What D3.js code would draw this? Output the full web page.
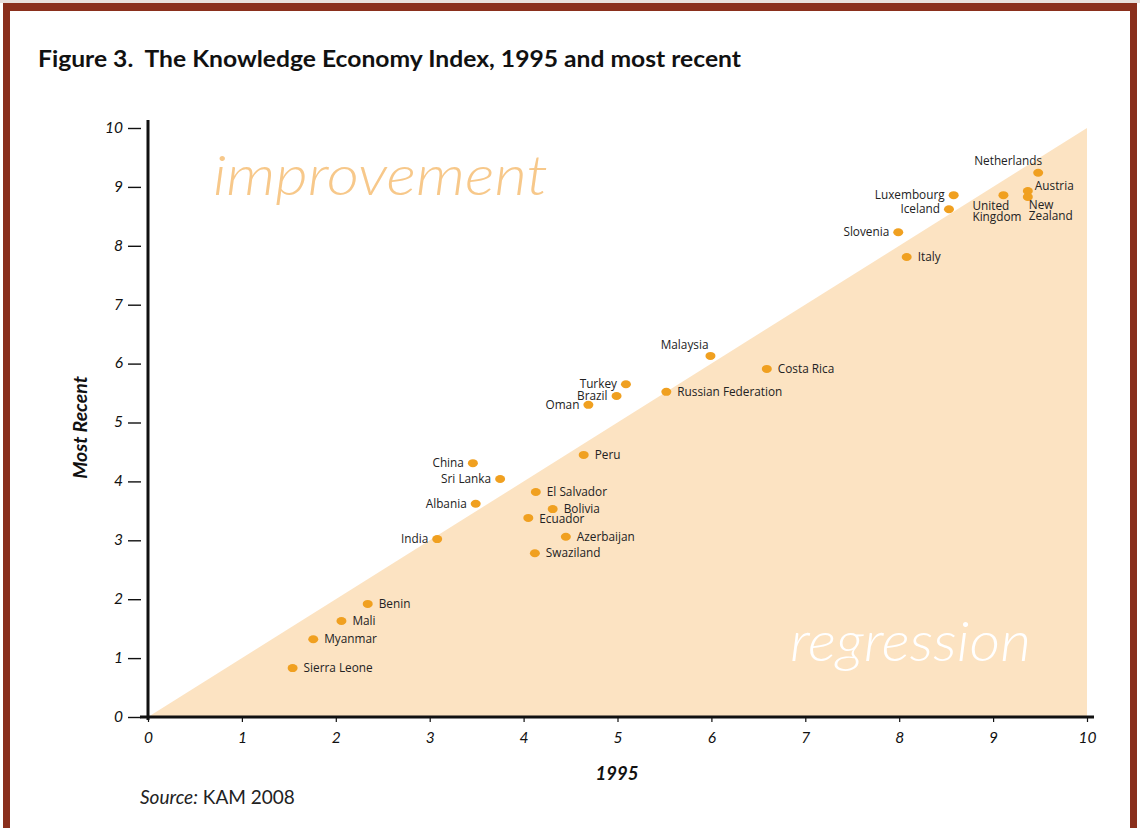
<!DOCTYPE html>
<html><head><meta charset="utf-8">
<script src="https://cdn.jsdelivr.net/npm/d3@7"></script>
<style>
html,body{margin:0;padding:0;background:#fff;}
svg{display:block;}
</style></head>
<body>
<svg id="chart" width="1140" height="828"></svg>
<script>
// ---- data ----
const countries = ["Netherlands","Austria","New Zealand","United Kingdom","Luxembourg","Iceland","Slovenia","Italy",
  "Malaysia","Costa Rica","Turkey","Brazil","Oman","Russian Federation","Peru","China","Sri Lanka","El Salvador",
  "Albania","Bolivia","Ecuador","India","Azerbaijan","Swaziland","Benin","Mali","Myanmar","Sierra Leone"];
const kei1995 = [9.48,9.37,9.37,9.11,8.58,8.53,7.99,8.08,5.99,6.59,5.09,4.99,4.69,5.52,4.64,3.46,3.75,4.13,
  3.49,4.31,4.05,3.08,4.45,4.12,2.34,2.06,1.76,1.54];
const keiRecent = [9.24,8.93,8.83,8.86,8.86,8.62,8.23,7.81,6.13,5.91,5.65,5.45,5.30,5.52,4.45,4.31,4.04,3.82,
  3.62,3.53,3.38,3.02,3.06,2.78,1.92,1.63,1.32,0.83];
const tickValues = [0,1,2,3,4,5,6,7,8,9,10];
const titleText = "Figure 3.  The Knowledge Economy Index, 1995 and most recent";
const xLabel = "1995", yLabel = "Most Recent";

// label placement (layout only)
const labelPlace = {
  "Netherlands":"above","Austria":"aboveright","New Zealand":"belowright","United Kingdom":"below",
  "Luxembourg":"left","Iceland":"left","Slovenia":"left","Italy":"right","Malaysia":"aboveleft",
  "Costa Rica":"right","Turkey":"left","Brazil":"left","Oman":"left","Russian Federation":"right",
  "Peru":"right","China":"left","Sri Lanka":"left","El Salvador":"right","Albania":"left","Bolivia":"right",
  "Ecuador":"right","India":"left","Azerbaijan":"right","Swaziland":"right","Benin":"right","Mali":"right",
  "Myanmar":"right","Sierra Leone":"right"
};

const svg = d3.select("#chart");
const W = 1140, H = 828;

// frame
svg.append("rect").attr("x",0).attr("y",0).attr("width",W).attr("height",3).attr("fill","#e8e0dc");
svg.append("rect").attr("x",3).attr("y",3).attr("width",W-6).attr("height",H).attr("fill","#8a2f1c");
svg.append("rect").attr("x",10).attr("y",11).attr("width",W-20).attr("height",H).attr("fill","#ffffff");

// title
svg.append("text").attr("x",38).attr("y",67)
  .attr("font-family","Lato, 'Open Sans', sans-serif").attr("font-weight",700).attr("font-size",22.5)
  .attr("fill","#111").attr("textLength",703).attr("lengthAdjust","spacingAndGlyphs")
  .style("white-space","pre").text(titleText);

const x = d3.scaleLinear().domain([0,10]).range([148,1087]);
const y = d3.scaleLinear().domain([0,10]).range([717,128]);

// shaded regression triangle
svg.append("path")
  .attr("d", d3.line()([[x(0),y(0)],[x(10),y(10)],[x(10),y(0)]]) + "Z")
  .attr("fill","#fce3c2");

// big words
svg.append("text").attr("x",213).attr("y",195)
  .attr("font-family","Lato, 'Open Sans', sans-serif").attr("font-style","italic").attr("font-weight",300)
  .attr("font-size",56).attr("fill","#f7c88a").attr("textLength",335).attr("lengthAdjust","spacingAndGlyphs")
  .text("improvement");
svg.append("text").attr("x",790).attr("y",661)
  .attr("font-family","Lato, 'Open Sans', sans-serif").attr("font-style","italic").attr("font-weight",300)
  .attr("font-size",56).attr("fill","#ffffff").attr("textLength",241).attr("lengthAdjust","spacingAndGlyphs")
  .text("regression");

// axes
const tickFont = "Lato, 'Open Sans', sans-serif";
const yAxis = svg.append("g").attr("transform",`translate(141,0)`)
  .call(d3.axisLeft(y).tickValues(tickValues).tickSize(13).tickPadding(5).tickFormat(d3.format("d")));
yAxis.select(".domain").remove();
yAxis.selectAll(".tick line").attr("stroke","#111").attr("stroke-width",1.4);
yAxis.selectAll(".tick text").attr("font-family",tickFont).attr("font-style","italic")
  .attr("font-size",15.5).attr("fill","#111").attr("dy","0.28em");

const xAxis = svg.append("g").attr("transform",`translate(0,${y(0)})`)
  .call(d3.axisBottom(x).tickValues(tickValues).tickSize(5).tickPadding(10).tickFormat(d3.format("d")));
xAxis.select(".domain").remove();
xAxis.selectAll(".tick line").attr("stroke","#111").attr("stroke-width",1.2);
xAxis.selectAll(".tick text").attr("font-family",tickFont).attr("font-style","italic")
  .attr("font-size",15.5).attr("fill","#111");

// axis lines
svg.append("line").attr("x1",x(0)).attr("x2",x(0)).attr("y1",120).attr("y2",y(0)+3)
  .attr("stroke","#111").attr("stroke-width",3);
svg.append("line").attr("x1",x(0)-8).attr("x2",1094).attr("y1",y(0)).attr("y2",y(0))
  .attr("stroke","#111").attr("stroke-width",3);

// axis titles
svg.append("text").attr("transform",`translate(87,${y(5)+5}) rotate(-90)`).attr("text-anchor","middle")
  .attr("font-family",tickFont).attr("font-style","italic").attr("font-weight",700)
  .attr("font-size",19.5).attr("fill","#111").text(yLabel);
svg.append("text").attr("x",617).attr("y",780).attr("text-anchor","middle")
  .attr("font-family",tickFont).attr("font-style","italic").attr("font-weight",700)
  .attr("font-size",18.5).attr("fill","#111").text(xLabel);

// source
const src = svg.append("text").attr("x",140).attr("y",804)
  .attr("font-family",tickFont).attr("font-size",19).attr("fill","#222");
src.append("tspan").attr("font-style","italic").text("Source:");
src.append("tspan").text(" KAM 2008");

// points
const data = countries.map((c,i)=>({name:c, x:kei1995[i], y:keiRecent[i]}));
const g = svg.append("g");
g.selectAll("ellipse").data(data).join("ellipse")
  .attr("cx",d=>x(d.x)).attr("cy",d=>y(d.y)).attr("rx",5).attr("ry",4)
  .attr("fill","#f0a020");

const lblFont = "'Open Sans', 'DejaVu Sans', sans-serif";
data.forEach(d=>{
  const px = x(d.x), py = y(d.y), p = labelPlace[d.name];
  const t = g.append("text").attr("font-family",lblFont).attr("font-size",11.8).attr("fill","#222");
  const dyExtra = d.name==="Ecuador" ? 1.5 : (d.name==="Bolivia" ? -0.5 : 0);
  if (p==="left") t.attr("x",px-9).attr("y",py+4).attr("text-anchor","end").text(d.name);
  else if (p==="right") t.attr("x",px+11).attr("y",py+4+dyExtra).text(d.name);
  else if (p==="above") t.attr("x",px+4).attr("y",py-8).attr("text-anchor","end").text(d.name);
  else if (p==="aboveright") t.attr("x",px+7).attr("y",py-1).text(d.name);
  else if (p==="aboveleft") t.attr("x",px-2).attr("y",py-7).attr("text-anchor","end").text(d.name);
  else if (p==="below") {
    const parts = d.name.split(" ");
    t.append("tspan").attr("x",px-31).attr("y",py+15).text(parts[0]);
    t.append("tspan").attr("x",px-31).attr("y",py+26).text(parts[1]);
  } else if (p==="belowright") {
    const parts = d.name.split(" ");
    t.append("tspan").attr("x",px+1).attr("y",py+12).text(parts[0]);
    t.append("tspan").attr("x",px+1).attr("y",py+23).text(parts[1]);
  }
});
</script>
</body></html>
